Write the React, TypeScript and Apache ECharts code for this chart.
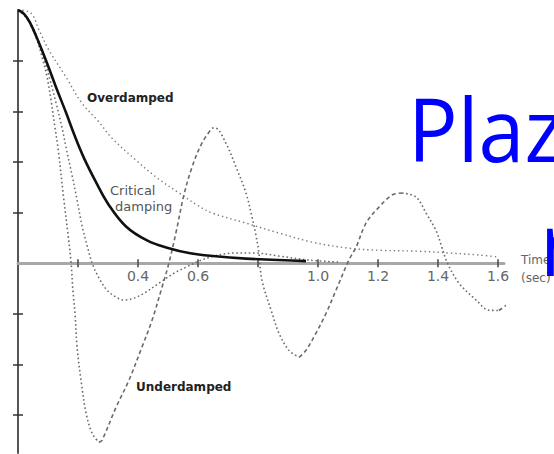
import { useEffect, useRef } from "react";
import * as echarts from "echarts";

// Time (s) and displacement values
const overdampedT = [0, 0.043, 0.07, 0.103, 0.16, 0.213, 0.27, 0.313, 0.393, 0.46, 0.537, 0.603, 0.647, 0.76, 0.87, 0.98, 1.103, 1.203, 1.337, 1.437, 1.537, 1.603];
const overdampedV = [1, 0.988, 0.921, 0.842, 0.735, 0.632, 0.557, 0.494, 0.407, 0.34, 0.277, 0.225, 0.198, 0.158, 0.119, 0.083, 0.059, 0.051, 0.047, 0.04, 0.032, 0.024];

const criticalT = [0, 0.02, 0.04, 0.07, 0.1, 0.13, 0.16, 0.19, 0.22, 0.26, 0.3, 0.36, 0.43, 0.5, 0.57, 0.65, 0.76, 0.96];
const criticalV = [1, 0.985, 0.95, 0.87, 0.78, 0.685, 0.595, 0.5, 0.415, 0.32, 0.235, 0.145, 0.09, 0.06, 0.04, 0.028, 0.018, 0.008];

const moderateT = [0, 0.037, 0.07, 0.093, 0.107, 0.127, 0.147, 0.16, 0.18, 0.197, 0.213, 0.23, 0.247, 0.27, 0.297, 0.327, 0.353, 0.387, 0.42, 0.47, 0.52, 0.56, 0.603, 0.653, 0.72, 0.787, 0.87, 0.97, 1.07];
const moderateV = [1, 0.957, 0.874, 0.783, 0.723, 0.632, 0.534, 0.458, 0.348, 0.249, 0.15, 0.071, 0, -0.059, -0.107, -0.134, -0.146, -0.138, -0.119, -0.079, -0.04, -0.016, 0.008, 0.028, 0.04, 0.04, 0.028, 0.012, 0.004];

const lightT = [0, 0.03, 0.063, 0.083, 0.097, 0.11, 0.123, 0.133, 0.153, 0.167, 0.177, 0.183, 0.19, 0.197, 0.21, 0.227, 0.247, 0.27, 0.28, 0.327, 0.37, 0.413, 0.447, 0.48, 0.503, 0.527, 0.553, 0.58, 0.613, 0.647, 0.66, 0.693, 0.727, 0.76, 0.78, 0.793, 0.803, 0.813, 0.847, 0.87, 0.903, 0.937, 0.96, 0.993, 1.027, 1.06, 1.103, 1.127, 1.16, 1.203, 1.247, 1.28, 1.327, 1.36, 1.393, 1.413, 1.43, 1.47, 1.527, 1.57, 1.603, 1.637];
const lightV = [1, 0.968, 0.881, 0.802, 0.735, 0.644, 0.538, 0.458, 0.249, 0.111, 0, -0.107, -0.198, -0.332, -0.462, -0.593, -0.672, -0.708, -0.7, -0.569, -0.462, -0.332, -0.225, -0.095, 0, 0.123, 0.269, 0.379, 0.474, 0.534, 0.533, 0.474, 0.379, 0.277, 0.182, 0.111, 0.04, -0.067, -0.198, -0.277, -0.344, -0.372, -0.344, -0.277, -0.198, -0.107, 0.012, 0.063, 0.158, 0.221, 0.269, 0.277, 0.261, 0.198, 0.13, 0.063, 0.004, -0.079, -0.146, -0.186, -0.187, -0.158];

const xTickValues = [0.2, 0.4, 0.6, 0.8, 1.0, 1.2, 1.4, 1.6];
const xLabelValues = [0.4, 0.6, 1.0, 1.2, 1.4, 1.6];
const yTickValues = [-0.6, -0.4, -0.2, 0.2, 0.4, 0.6, 0.8];
const axisTitle = ["Time", "(sec)"];
const curveNames = ["Overdamped", "Critical", "damping", "Underdamped"];
const overlayWords = ["Plaz", "r"];

function pairs(ts: number[], vs: number[]) {
  return ts.map((t, i) => [t, vs[i]]);
}

function splitMonotonic(ts: number[], vs: number[]) {
  const segs: { dir: number; pts: number[][] }[] = [];
  let cur: number[][] = [[ts[0], vs[0]]];
  let dir = Math.sign(vs[1] - vs[0]);
  for (let i = 1; i < ts.length; i++) {
    const d = Math.sign(vs[i] - vs[i - 1]);
    if (d !== 0 && d !== dir) {
      segs.push({ dir, pts: cur });
      cur = [[ts[i - 1], vs[i - 1]]];
      dir = d;
    }
    cur.push([ts[i], vs[i]]);
  }
  segs.push({ dir, pts: cur });
  return segs;
}

const W = 554;
const H = 454;
const GRID_TOP = 10;
const GRID_BOTTOM = 1;
const Y_MIN = -0.75;
const Y_MAX = 1;

export default function App() {
  const ref = useRef<HTMLDivElement>(null);
  useEffect(() => {
    if (!ref.current) return;
    const chart = echarts.init(ref.current, null, { renderer: "svg" });
    const dotted = [1.6, 2.6];
    const dashed = [4, 3];
    const grey = "#6a6a6a";
    const gridH = H - GRID_TOP - GRID_BOTTOM;
    const zeroOffset = -gridH * (0 - Y_MIN) / (Y_MAX - Y_MIN);
    const lightSegs = splitMonotonic(lightT, lightV).map((s) => ({
      type: "line",
      data: s.pts,
      showSymbol: false,
      smooth: 0.35,
      lineStyle: { color: grey, width: 1.6, type: s.dir < 0 ? dotted : dashed },
      z: 3,
    }));
    const tickStyle = { color: "#444", width: 1.5 };
    chart.setOption({
      animation: false,
      backgroundColor: "#ffffff",
      grid: { left: 18, right: 50, top: GRID_TOP, bottom: GRID_BOTTOM, outerBoundsMode: "none", containLabel: false },
      xAxis: [
        {
          type: "value",
          min: 0,
          max: 1.62,
          position: "bottom",
          offset: zeroOffset,
          splitLine: { show: false },
          axisLine: { onZero: false, lineStyle: { color: "#a8a8a8", width: 3 } },
          axisTick: { show: true, customValues: xTickValues, length: 4, lineStyle: tickStyle },
          axisLabel: {
            show: true,
            customValues: xLabelValues,
            formatter: (v: number) => v.toFixed(1),
            color: "#666",
            fontFamily: "DejaVu Sans",
            fontSize: 14,
            margin: 6,
          },
        },
        {
          type: "value",
          min: 0,
          max: 1.62,
          position: "top",
          splitLine: { show: false },
          axisLine: { show: false, onZero: true },
          axisTick: { show: true, customValues: xTickValues, length: 4, lineStyle: tickStyle },
          axisLabel: { show: false },
        },
      ],
      yAxis: [
        {
          type: "value",
          min: Y_MIN,
          max: Y_MAX,
          position: "left",
          splitLine: { show: false },
          axisLine: { show: true, onZero: true, lineStyle: { color: "#555", width: 2 } },
          axisTick: { show: true, customValues: yTickValues, length: 5, lineStyle: { color: "#333", width: 1.5 } },
          axisLabel: { show: false },
        },
        {
          type: "value",
          min: Y_MIN,
          max: Y_MAX,
          position: "right",
          splitLine: { show: false },
          axisLine: { show: false, onZero: true },
          axisTick: { show: true, customValues: yTickValues, length: 5, lineStyle: { color: "#333", width: 1.5 } },
          axisLabel: { show: false },
        },
      ],
      series: [
        {
          type: "line",
          data: pairs(overdampedT, overdampedV),
          showSymbol: false,
          smooth: 0.35,
          lineStyle: { color: "#7a7a7a", width: 1.4, type: [1.4, 3] },
          z: 2,
        },
        {
          type: "line",
          data: pairs(moderateT, moderateV),
          showSymbol: false,
          smooth: 0.35,
          lineStyle: { color: grey, width: 1.5, type: dotted },
          z: 2,
        },
        ...lightSegs,
        {
          type: "line",
          data: pairs(criticalT, criticalV),
          showSymbol: false,
          smooth: 0.4,
          lineStyle: { color: "#111", width: 2.6, type: "solid" },
          z: 4,
        },
      ],
      graphic: [
        { type: "text", left: 87, top: 92, style: { text: curveNames[0], font: "bold 12px 'DejaVu Sans'", fill: "#222" } },
        { type: "text", left: 110, top: 184, style: { text: curveNames[1], font: "13px 'DejaVu Sans'", fill: "#555" } },
        { type: "text", left: 115, top: 200, style: { text: curveNames[2], font: "13px 'DejaVu Sans'", fill: "#555" } },
        { type: "text", left: 136, top: 381, style: { text: curveNames[3], font: "bold 12px 'DejaVu Sans'", fill: "#222" } },
        { type: "text", left: 521, top: 254, style: { text: axisTitle[0], font: "12px 'DejaVu Sans'", fill: "#666" } },
        { type: "text", left: 521, top: 272, style: { text: axisTitle[1], font: "12px 'DejaVu Sans'", fill: "#666" } },
        {
          type: "text",
          x: 408,
          y: 128,
          scaleX: 0.95,
          style: { text: overlayWords[0], font: "87px 'Open Sans'", fill: "#0000ff", verticalAlign: "middle", align: "left" },
          z: 100,
        },
        {
          type: "text",
          x: 540,
          y: 242,
          scaleX: 0.95,
          style: { text: overlayWords[1], font: "87px 'Open Sans'", fill: "#0000ff", verticalAlign: "middle", align: "left" },
          z: 100,
        },
      ],
    });
    return () => chart.dispose();
  }, []);
  return (
    <div
      ref={ref}
      style={{ position: "fixed", left: 0, top: 0, width: W, height: H, background: "#fff" }}
    />
  );
}
